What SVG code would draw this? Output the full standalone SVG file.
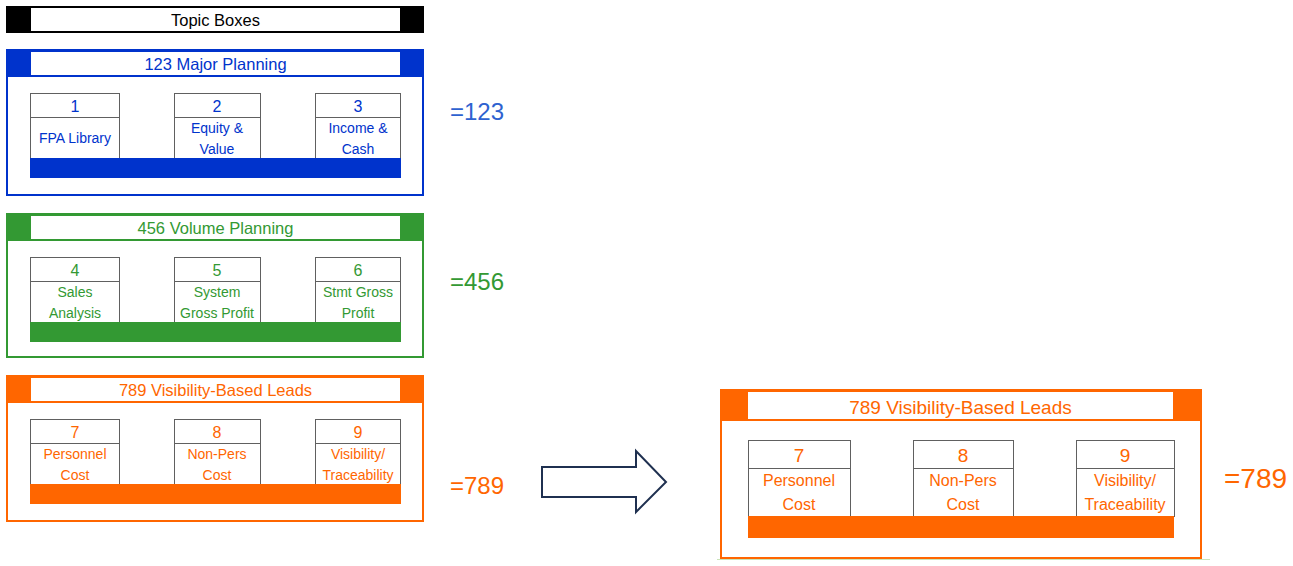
<svg xmlns="http://www.w3.org/2000/svg" width="1293" height="566" viewBox="0 0 1293 566">
<style>
text{font-family:"Liberation Sans",Arial,sans-serif;text-anchor:middle}
.cell{fill:#fff;stroke:#606060;stroke-width:1}
.t{font-size:16.5px}
.n{font-size:16px}
.l{font-size:14px}
.rt{font-size:19px}
.rn{font-size:19px}
.rl{font-size:16px}
.big{font-size:24px;text-anchor:start}
.blue{fill:#0033CC}.bluestk{stroke:#0033CC}
.green{fill:#339933}.greenstk{stroke:#339933}
.orange{fill:#FF6600}.orangestk{stroke:#FF6600}
</style>
<rect width="1293" height="566" fill="#fff"/>

<g id="topic-boxes">
<rect x="6" y="6" width="418" height="27" fill="#000"/>
<rect x="31" y="8" width="369" height="23" fill="#fff"/>
<text x="215.5" y="26" class="t" fill="#000">Topic Boxes</text>
</g>

<g id="panel-123">
<rect x="7" y="50" width="416" height="145" fill="#fff" stroke="#0033CC" stroke-width="2"/>
<rect x="6" y="49" width="418" height="28" class="blue"/>
<rect x="31" y="52" width="369" height="23" fill="#fff"/>
<text x="215.5" y="70" class="t blue">123 Major Planning</text>
<g id="box-1">
<rect x="30.5" y="93.5" width="89" height="65" class="cell"/>
<line x1="30.5" y1="117.5" x2="119.5" y2="117.5" stroke="#606060"/>
<text x="75" y="112" class="n blue">1</text>
<text x="75" y="143" class="l blue">FPA Library</text>
</g>
<g id="box-2">
<rect x="174.5" y="93.5" width="86" height="65" class="cell"/>
<line x1="174.5" y1="117.5" x2="260.5" y2="117.5" stroke="#606060"/>
<text x="217" y="112" class="n blue">2</text>
<text x="217" y="133" class="l blue">Equity &amp;</text>
<text x="217" y="154" class="l blue">Value</text>
</g>
<g id="box-3">
<rect x="315.5" y="93.5" width="85" height="65" class="cell"/>
<line x1="315.5" y1="117.5" x2="400.5" y2="117.5" stroke="#606060"/>
<text x="358" y="112" class="n blue">3</text>
<text x="358" y="133" class="l blue">Income &amp;</text>
<text x="358" y="154" class="l blue">Cash</text>
</g>
<rect x="30" y="158" width="371" height="20" class="blue"/>
</g>
<text id="eq-123" x="450" y="120" class="big" fill="#2E62D0">=123</text>

<g id="panel-456">
<rect x="7" y="214" width="416" height="143" fill="#fff" stroke="#339933" stroke-width="2"/>
<rect x="6" y="213" width="418" height="28" class="green"/>
<rect x="31" y="216" width="369" height="23" fill="#fff"/>
<text x="215.5" y="234" class="t green">456 Volume Planning</text>
<g id="box-4">
<rect x="30.5" y="257.5" width="89" height="65" class="cell"/>
<line x1="30.5" y1="281.5" x2="119.5" y2="281.5" stroke="#606060"/>
<text x="75" y="276" class="n green">4</text>
<text x="75" y="297" class="l green">Sales</text>
<text x="75" y="318" class="l green">Analysis</text>
</g>
<g id="box-5">
<rect x="174.5" y="257.5" width="86" height="65" class="cell"/>
<line x1="174.5" y1="281.5" x2="260.5" y2="281.5" stroke="#606060"/>
<text x="217" y="276" class="n green">5</text>
<text x="217" y="297" class="l green">System</text>
<text x="217" y="318" class="l green">Gross Profit</text>
</g>
<g id="box-6">
<rect x="315.5" y="257.5" width="85" height="65" class="cell"/>
<line x1="315.5" y1="281.5" x2="400.5" y2="281.5" stroke="#606060"/>
<text x="358" y="276" class="n green">6</text>
<text x="358" y="297" class="l green">Stmt Gross</text>
<text x="358" y="318" class="l green">Profit</text>
</g>
<rect x="30" y="322" width="371" height="20" class="green"/>
</g>
<text id="eq-456" x="450" y="290" class="big green">=456</text>

<g id="panel-789">
<rect x="7" y="376" width="416" height="145" fill="#fff" stroke="#FF6600" stroke-width="2"/>
<rect x="6" y="375" width="418" height="28" class="orange"/>
<rect x="31" y="378" width="369" height="23" fill="#fff"/>
<text x="215.5" y="396" class="t orange">789 Visibility-Based Leads</text>
<g id="box-7">
<rect x="30.5" y="419.5" width="89" height="65" class="cell"/>
<line x1="30.5" y1="443.5" x2="119.5" y2="443.5" stroke="#606060"/>
<text x="75" y="438" class="n orange">7</text>
<text x="75" y="459" class="l orange">Personnel</text>
<text x="75" y="480" class="l orange">Cost</text>
</g>
<g id="box-8">
<rect x="174.5" y="419.5" width="86" height="65" class="cell"/>
<line x1="174.5" y1="443.5" x2="260.5" y2="443.5" stroke="#606060"/>
<text x="217" y="438" class="n orange">8</text>
<text x="217" y="459" class="l orange">Non-Pers</text>
<text x="217" y="480" class="l orange">Cost</text>
</g>
<g id="box-9">
<rect x="315.5" y="419.5" width="85" height="65" class="cell"/>
<line x1="315.5" y1="443.5" x2="400.5" y2="443.5" stroke="#606060"/>
<text x="358" y="438" class="n orange">9</text>
<text x="358" y="459" class="l orange">Visibility/</text>
<text x="358" y="480" class="l orange">Traceability</text>
</g>
<rect x="30" y="484" width="371" height="20" class="orange"/>
</g>
<text id="eq-789" x="450" y="494" class="big orange">=789</text>

<g id="connectors">
<path d="M542,467 H636 V451 L666,482 L636,512 V497 H542 Z" fill="#fff" stroke="#1F3050" stroke-width="2" stroke-linejoin="miter"/>
</g>

<g id="panel-789-large">
<line x1="717" y1="559.5" x2="1210" y2="559.5" stroke="#C9E3B8" stroke-width="1"/>
<rect x="721" y="390" width="480" height="168" fill="#fff" stroke="#FF6600" stroke-width="2"/>
<rect x="720" y="389" width="482" height="32" class="orange"/>
<rect x="748" y="392" width="425" height="27" fill="#fff"/>
<text x="960.5" y="414" class="rt orange">789 Visibility-Based Leads</text>
<g id="box-7-large">
<rect x="748.5" y="440.5" width="102" height="76" class="cell"/>
<line x1="748.5" y1="468.5" x2="850.5" y2="468.5" stroke="#606060"/>
<text x="799" y="462" class="rn orange">7</text>
<text x="799" y="486" class="rl orange">Personnel</text>
<text x="799" y="510" class="rl orange">Cost</text>
</g>
<g id="box-8-large">
<rect x="913.5" y="440.5" width="100" height="76" class="cell"/>
<line x1="913.5" y1="468.5" x2="1013.5" y2="468.5" stroke="#606060"/>
<text x="963" y="462" class="rn orange">8</text>
<text x="963" y="486" class="rl orange">Non-Pers</text>
<text x="963" y="510" class="rl orange">Cost</text>
</g>
<g id="box-9-large">
<rect x="1076.5" y="440.5" width="98" height="76" class="cell"/>
<line x1="1076.5" y1="468.5" x2="1174.5" y2="468.5" stroke="#606060"/>
<text x="1125" y="462" class="rn orange">9</text>
<text x="1125" y="486" class="rl orange">Visibility/</text>
<text x="1125" y="510" class="rl orange">Traceability</text>
</g>
<rect x="748" y="516" width="426" height="22" class="orange"/>
</g>
<text id="eq-789-large" x="1224" y="488" class="big orange" style="font-size:28px">=789</text>
</svg>
